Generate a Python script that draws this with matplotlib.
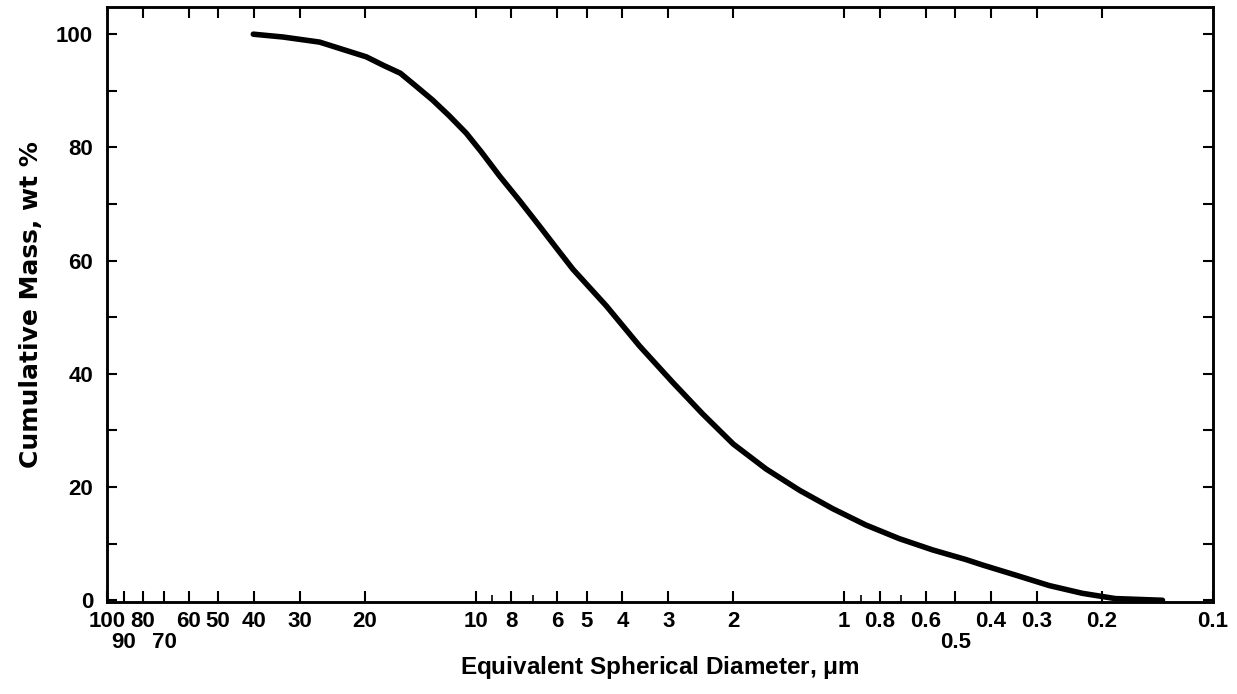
import numpy as np
import matplotlib
matplotlib.use("Agg")
from matplotlib import pyplot as plt
from matplotlib.ticker import FixedLocator, FixedFormatter, NullFormatter

plt.rcParams["font.family"] = ["Liberation Sans", "DejaVu Sans"]
plt.rcParams["font.weight"] = "bold"
plt.rcParams["mathtext.default"] = "regular"

# Cumulative mass curve
diameter_um = [40.1, 33.3, 26.5, 19.8, 17.8, 16.0, 14.5, 13.1, 11.8, 10.6, 9.65,
               8.6, 7.6, 6.71, 6.0, 5.45, 4.42, 3.59, 2.92, 2.42, 2.0, 1.63, 1.32,
               1.076, 0.874, 0.71, 0.576, 0.468, 0.42, 0.343, 0.278, 0.226,
               0.184, 0.137]
cum_mass_pct = [100.0, 99.5, 98.6, 96.0, 94.5, 93.1, 90.8, 88.4, 85.6, 82.5, 79.2,
                74.9, 70.6, 66.1, 62.0, 58.5, 52.0, 44.9, 38.5, 32.9, 27.6, 23.2,
                19.4, 16.2, 13.3, 10.9, 8.9, 7.2, 6.2, 4.45, 2.6, 1.23, 0.3, 0.0]

# x axis ticks: first row labels, second row labels, unlabeled minor ticks
x_row1 = [100, 80, 60, 50, 40, 30, 20, 10, 8, 6, 5, 4, 3, 2, 1, 0.8, 0.6, 0.4, 0.3, 0.2, 0.1]
x_row1_labels = ["100", "80", "60", "50", "40", "30", "20", "10", "8", "6", "5", "4",
                 "3", "2", "1", "0.8", "0.6", "0.4", "0.3", "0.2", "0.1"]
x_row2 = [90, 70, 0.5]
x_row2_labels = ["90", "70", "0.5"]
x_minor = [9, 7, 0.9, 0.7]
x_top = [80, 60, 50, 40, 30, 20, 10, 8, 6, 5, 4, 3, 2, 1, 0.8, 0.6, 0.5, 0.4, 0.3, 0.2]

y_major = [0, 20, 40, 60, 80, 100]
y_minor = [10, 30, 50, 70, 90]

fig = plt.figure(figsize=(12.37, 6.94), dpi=100)
ax = fig.add_axes([0.0865, 0.1326, 0.894, 0.8573])

ax.plot(diameter_um, cum_mass_pct, color="black", lw=4.0, solid_capstyle="round",
        solid_joinstyle="round")

ax.set_xscale("log")
ax.set_xlim(100, 0.1)
ax.set_ylim(-0.3, 104.8)

# first row of labels on the major ticks, second row drawn as text below
ax.xaxis.set_major_locator(FixedLocator(x_row1 + x_row2))
ax.xaxis.set_major_formatter(FixedFormatter(x_row1_labels + [""] * len(x_row2)))
ax.xaxis.set_minor_locator(FixedLocator(x_minor))
ax.xaxis.set_minor_formatter(NullFormatter())

for xv, s in zip(x_row2, x_row2_labels):
    ax.text(xv, -0.050, s, transform=ax.get_xaxis_transform(), ha="center",
            va="top", fontsize=16, fontweight="bold")

ax.yaxis.set_major_locator(FixedLocator(y_major))
ax.yaxis.set_minor_locator(FixedLocator(y_minor))

ax.tick_params(axis="x", which="major", direction="in", length=8, width=1.5,
               labelsize=16, pad=6.5)
ax.tick_params(axis="x", which="minor", direction="in", length=5, width=1.2)
ax.tick_params(axis="y", which="both", direction="in", length=7, width=1.5,
               labelsize=16, pad=10, right=True)

for lab in ax.get_xticklabels() + ax.get_yticklabels():
    lab.set_fontweight("bold")

ax_top = ax.twiny()
ax_top.set_xscale("log")
ax_top.set_xlim(ax.get_xlim())
ax_top.xaxis.set_major_locator(FixedLocator(x_top))
ax_top.xaxis.set_minor_locator(FixedLocator([]))
ax_top.xaxis.set_major_formatter(NullFormatter())
ax_top.tick_params(axis="x", which="major", direction="in", length=8, width=1.5)

for a in (ax, ax_top):
    for sp in a.spines.values():
        sp.set_linewidth(1.8)

ax.set_xlabel(r"Equivalent Spherical Diameter, $\mu$m", fontsize=17.5,
              fontweight="bold", labelpad=16)
ax.set_ylabel("Cumulative Mass, wt %", fontsize=18, fontweight="bold",
              family=["DejaVu Sans"], labelpad=9)

fig.savefig("out.png", dpi=100)
plt.close(fig)
